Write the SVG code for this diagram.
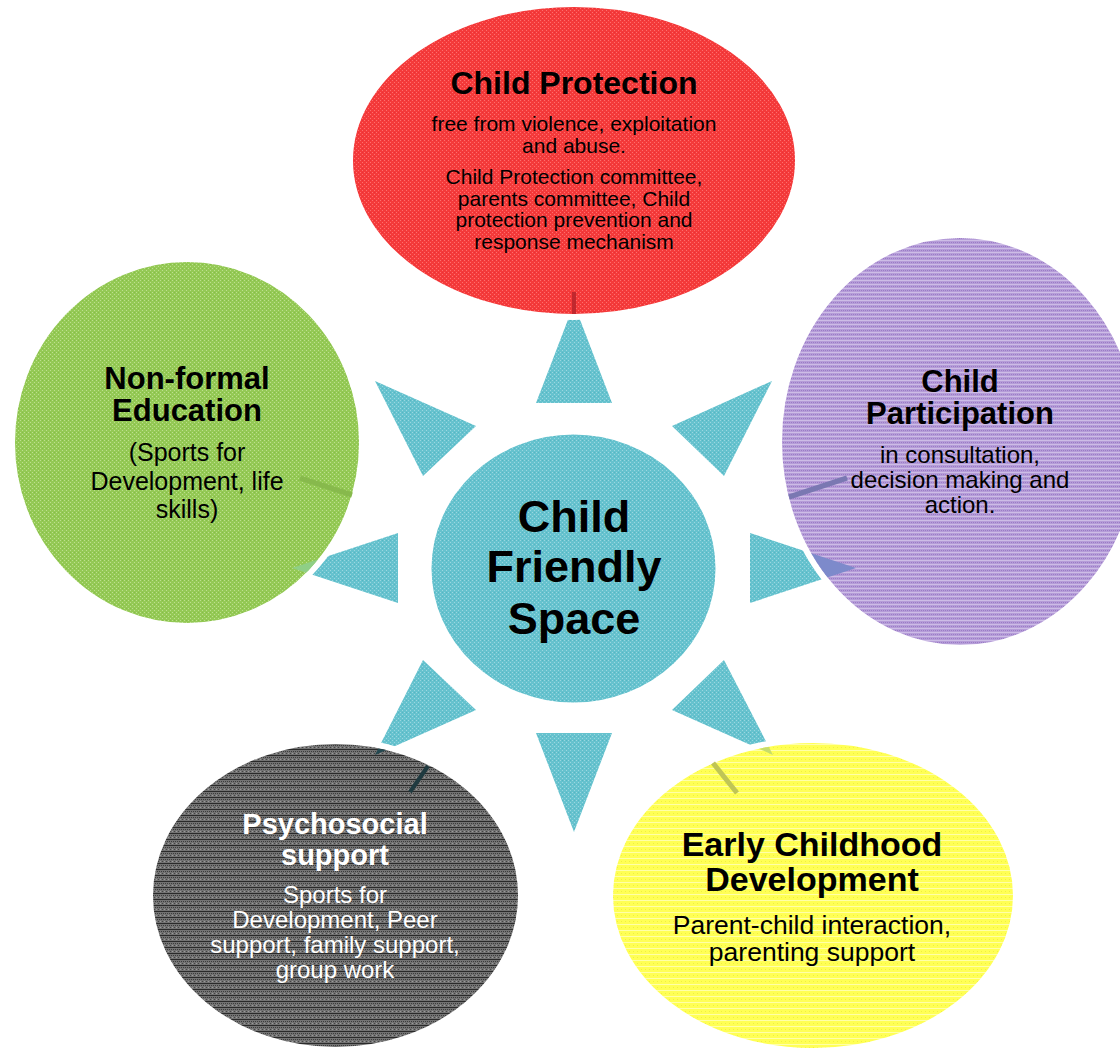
<svg xmlns="http://www.w3.org/2000/svg" width="1120" height="1048" viewBox="0 0 1120 1048">
<defs>
<pattern id="pTeal" width="4" height="4" patternUnits="userSpaceOnUse"><rect width="4" height="4" fill="#66c2ce"/><rect x="0" y="0" width="1" height="1" fill="#9ad7e0"/><rect x="2" y="2" width="1" height="1" fill="#9ad7e0"/><rect x="2" y="0" width="1" height="1" fill="#55b6c3"/></pattern>
<pattern id="pRed" width="4" height="4" patternUnits="userSpaceOnUse"><rect width="4" height="4" fill="#f43a3a"/><rect x="0" y="0" width="1" height="1" fill="#ff6e6e"/><rect x="2" y="2" width="1" height="1" fill="#ff6e6e"/><rect x="2" y="0" width="1" height="1" fill="#ea3038"/></pattern>
<pattern id="pGreen" width="4" height="4" patternUnits="userSpaceOnUse"><rect width="4" height="4" fill="#94c955"/><rect x="0" y="0" width="1" height="1" fill="#bde08e"/><rect x="2" y="2" width="1" height="1" fill="#bde08e"/><rect x="2" y="0" width="1" height="1" fill="#86bd48"/></pattern>
<pattern id="pPurple" width="4" height="4" patternUnits="userSpaceOnUse"><rect width="4" height="4" fill="#b59cd8"/><rect x="0" y="0" width="4" height="1" fill="#cdbde6"/><rect x="1" y="2" width="1" height="1" fill="#9a7cc6"/><rect x="3" y="2" width="1" height="1" fill="#9a7cc6"/></pattern>
<pattern id="pYellow" width="4" height="6" patternUnits="userSpaceOnUse"><rect width="4" height="6" fill="#ffff55"/><rect x="0" y="0" width="4" height="1" fill="#ffffa8"/><rect x="1" y="3" width="1" height="1" fill="#f0f040"/></pattern>
<pattern id="pGray" width="4" height="6" patternUnits="userSpaceOnUse"><rect width="4" height="6" fill="#737373"/><rect x="1" y="1" width="1" height="1" fill="#3c3c3c"/><rect x="3" y="1" width="1" height="1" fill="#3c3c3c"/><rect x="0" y="3" width="1" height="1" fill="#9a9a9a"/><rect x="2" y="3" width="1" height="1" fill="#444"/><rect x="0" y="5" width="4" height="1" fill="#2a2a2a"/></pattern>
<clipPath id="cGreen"><ellipse cx="187" cy="442.5" rx="172" ry="180.5"/></clipPath>
<clipPath id="cPurple"><ellipse cx="960" cy="441.5" rx="178" ry="203.5"/></clipPath>
<clipPath id="cGray"><ellipse cx="335.5" cy="895.5" rx="182.5" ry="151.5"/></clipPath>
<clipPath id="cYellow"><ellipse cx="813" cy="895.5" rx="200" ry="152.5"/></clipPath>
</defs>
<style>
.ray{fill:url(#pTeal)}
.oval{stroke:#ffffff;stroke-width:6}
text{font-family:"Liberation Sans",Arial,Helvetica,sans-serif;text-anchor:middle;fill:#000}
.b{font-weight:bold}
.w{fill:#ffffff}
.conn{fill:none;stroke-linecap:butt}
</style>
<rect width="1120" height="1048" fill="#ffffff"/>

<g id="node-center">
<polygon class="ray" points="574,304 536,403 612,403"/>
<polygon class="ray" points="536,733 612,733 574,832"/>
<polygon class="ray" points="398,533 398,603 292,568"/>
<polygon class="ray" points="750,533 750,603 856,568"/>
<polygon class="ray" points="375,381 476,426 423,476"/>
<polygon class="ray" points="772,381 672,426 724,476"/>
<polygon class="ray" points="375,755 476,710 423,660"/>
<polygon class="ray" points="773,755 672,710 724,660"/>
<ellipse cx="573.5" cy="568.5" rx="142" ry="134" fill="url(#pTeal)"/>
<text class="b" font-size="45" x="574" y="532">Child</text>
<text class="b" font-size="45" x="574" y="582">Friendly</text>
<text class="b" font-size="45" x="574" y="634">Space</text>
</g>

<g id="node-protection">
<ellipse class="oval" cx="574" cy="160.5" rx="224" ry="156.5" fill="url(#pRed)"/>
<text class="b" font-size="32" x="574" y="94">Child Protection</text>
<text font-size="21" x="574" y="131">free from violence, exploitation</text>
<text font-size="21" x="574" y="153">and abuse.</text>
<text font-size="21" x="574" y="184">Child Protection committee,</text>
<text font-size="21" x="574" y="206">parents committee, Child</text>
<text font-size="21" x="574" y="227">protection prevention and</text>
<text font-size="21" x="574" y="249">response mechanism</text>
</g>

<g id="node-education">
<ellipse class="oval" cx="187" cy="442.5" rx="175" ry="183.5" fill="url(#pGreen)"/>
<polygon points="398,533 398,603 292,568" fill="#8fcf86" clip-path="url(#cGreen)"/>
<text class="b" font-size="31" x="187" y="389">Non-formal</text>
<text class="b" font-size="31" x="187" y="421">Education</text>
<text font-size="25" x="187" y="461">(Sports for</text>
<text font-size="25" x="187" y="490">Development, life</text>
<text font-size="25" x="187" y="518">skills)</text>
</g>

<g id="node-participation">
<ellipse class="oval" cx="960" cy="441.5" rx="181" ry="206.5" fill="url(#pPurple)"/>
<polygon points="750,533 750,603 856,568" fill="#7d8acb" clip-path="url(#cPurple)"/>
<text class="b" font-size="31" x="960" y="392">Child</text>
<text class="b" font-size="31" x="960" y="424">Participation</text>
<text font-size="24" x="960" y="463">in consultation,</text>
<text font-size="24" x="960" y="488">decision making and</text>
<text font-size="24" x="960" y="513">action.</text>
</g>

<g id="node-psychosocial">
<ellipse class="oval" cx="335.5" cy="895.5" rx="185.5" ry="154.5" fill="url(#pGray)"/>
<polygon points="375,755 476,710 423,660" fill="#234850" clip-path="url(#cGray)"/>
<text class="b w" font-size="29" x="335" y="834">Psychosocial</text>
<text class="b w" font-size="29" x="335" y="865">support</text>
<text class="w" font-size="24" x="335" y="903">Sports for</text>
<text class="w" font-size="24" x="335" y="928">Development, Peer</text>
<text class="w" font-size="24" x="335" y="953">support, family support,</text>
<text class="w" font-size="24" x="335" y="978">group work</text>
</g>

<g id="node-ecd">
<ellipse class="oval" cx="813" cy="895.5" rx="203" ry="155.5" fill="url(#pYellow)"/>
<polygon points="773,755 672,710 724,660" fill="#c6dc6c" clip-path="url(#cYellow)"/>
<text class="b" font-size="34" x="812" y="856">Early Childhood</text>
<text class="b" font-size="34" x="812" y="891">Development</text>
<text font-size="26.5" x="812" y="934">Parent-child interaction,</text>
<text font-size="26.5" x="812" y="961">parenting support</text>
</g>

<g id="connectors">
<line class="conn" x1="574" y1="292" x2="574" y2="314" stroke="#c0282e" stroke-width="4"/>
<line class="conn" x1="352" y1="495" x2="300" y2="478" stroke="#87b94c" stroke-width="5"/>
<line class="conn" x1="789" y1="497" x2="847" y2="478" stroke="#7a78b2" stroke-width="5"/>
<line class="conn" x1="428" y1="766" x2="410" y2="792" stroke="#1f3a40" stroke-width="4"/>
<line class="conn" x1="713" y1="763" x2="737" y2="793" stroke="#bfc556" stroke-width="5"/>
</g>
</svg>
